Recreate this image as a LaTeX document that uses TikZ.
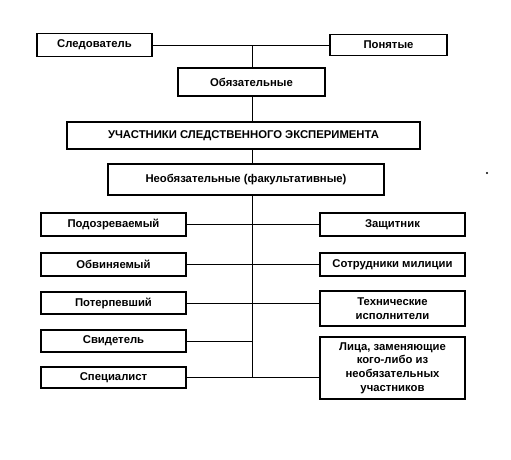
\documentclass[tikz,border=0pt]{standalone}
\usepackage{fontspec}
\setmainfont{Liberation Sans}
\begin{document}
\begin{tikzpicture}[x=1pt,y=-1pt,
  box/.style={draw=black,line width=1.6pt,fill=white,inner sep=0pt,align=center,
    font=\fontsize{11.3}{13.6}\selectfont\bfseries},
  conn/.style={draw=black,line width=0.9pt}]
\useasboundingbox (0,0) rectangle (511,459);
% nodes
\node[box,minimum width=115,minimum height=23] (sled) at (94.5,45) {Следователь};
\node[box,minimum width=117,minimum height=21] (pon) at (388.5,45) {Понятые};
\node[box,minimum width=147,minimum height=28] (obyaz) at (251.5,82) {Обязательные};
\node[box,line width=2.6pt,minimum width=353,minimum height=27] (main) at (243.5,135.5) {УЧАСТНИКИ СЛЕДСТВЕННОГО ЭКСПЕРИМЕНТА};
\node[box,minimum width=276,minimum height=31] (neob) at (246,179.5) {Необязательные (факультативные)};
\node[box,minimum width=145,minimum height=23] (pod) at (113.5,224.5) {Подозреваемый};
\node[box,minimum width=145,minimum height=23] (obv) at (113.5,264.5) {Обвиняемый};
\node[box,minimum width=145,minimum height=22] (pot) at (113.5,303) {Потерпевший};
\node[box,minimum width=145,minimum height=22] (svid) at (113.5,341) {Свидетель};
\node[box,minimum width=145,minimum height=21] (spec) at (113.5,377.5) {Специалист};
\node[box,minimum width=145,minimum height=23] (zash) at (392.5,224.5) {Защитник};
\node[box,minimum width=145,minimum height=23] (sotr) at (392.5,264.5) {Сотрудники милиции};
\node[box,minimum width=145,minimum height=35] (tech) at (392.5,308.5) {Технические\\исполнители};
\node[box,minimum width=145,minimum height=62] (lica) at (392.5,368) {Лица, заменяющие\\кого-либо из\\необязательных\\участников};
\coordinate (top) at (252,45);
\coordinate (bot) at (252,377.5);
% connectors
\draw[conn] (sled.east) -- (pon.west);
\draw[conn] (top) -- (obyaz.north -| top);
\draw[conn] (obyaz.south -| top) -- (main.north -| top);
\draw[conn] (main.south -| top) -- (neob.north -| top);
\draw[conn] (neob.south -| top) -- (bot);
\draw[conn] (pod.east) -- (zash.west);
\draw[conn] (obv.east) -- (sotr.west);
\draw[conn] (pot.east) -- (pot.east -| tech.west);
\draw[conn] (svid.east) -- (svid.east -| top);
\draw[conn] (spec.east) -- (spec.east -| lica.west);
\fill[black] (487,173) circle (1.2);
\end{tikzpicture}
\end{document}
